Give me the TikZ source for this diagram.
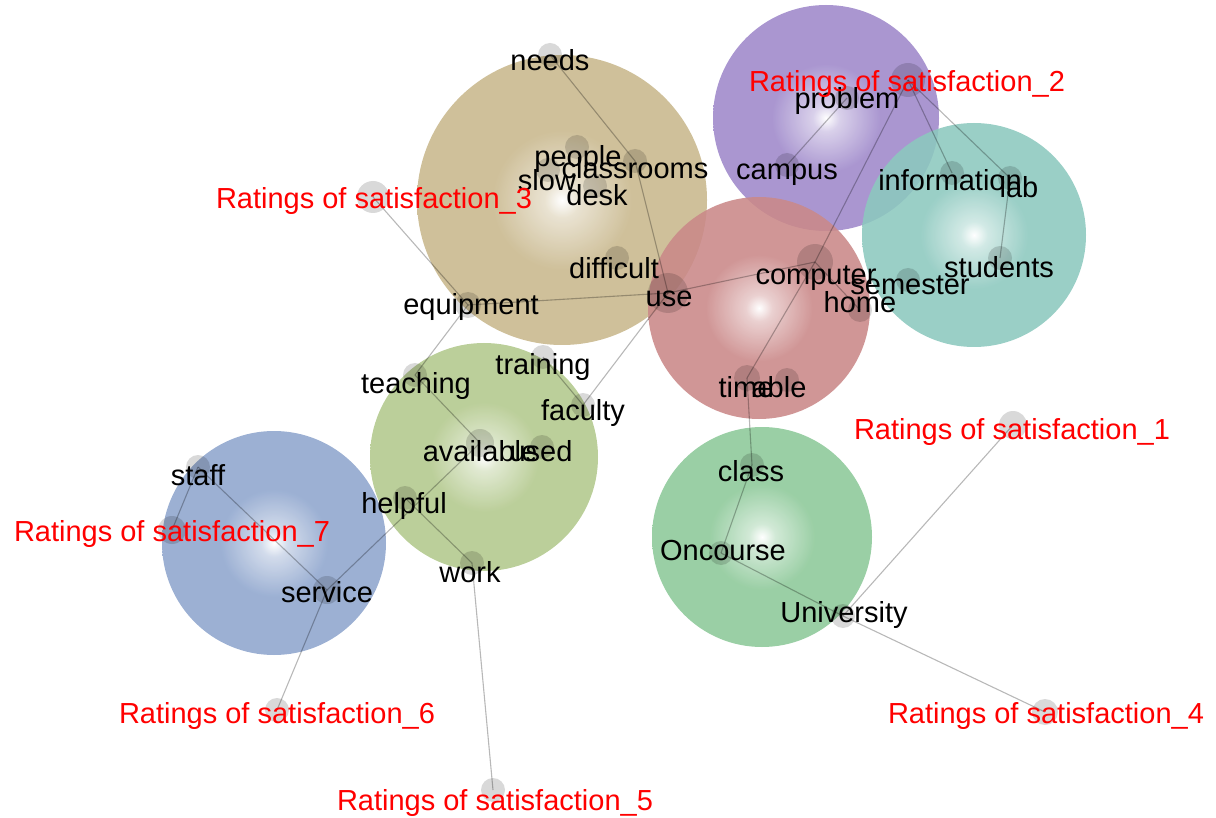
\documentclass[tikz,border=0pt]{standalone}
\usepackage{fontspec}
\setmainfont{Liberation Sans}
\definecolor{ctan}{RGB}{200,183,140}
\definecolor{cpur}{RGB}{158,136,202}
\definecolor{cteal}{RGB}{140,200,190}
\definecolor{cpink}{RGB}{202,136,136}
\definecolor{colive}{RGB}{178,200,140}
\definecolor{cgreen}{RGB}{140,200,152}
\definecolor{cblue}{RGB}{142,165,205}
\pgfdeclareradialshading{sh-tan}{\pgfpoint{0bp}{0bp}}{color(0bp)=(white); color(3bp)=(white!55!ctan); color(12bp)=(ctan); color(25bp)=(ctan); color(50bp)=(ctan)}
\pgfdeclareradialshading{sh-pur}{\pgfpoint{0bp}{0bp}}{color(0bp)=(white); color(3bp)=(white!55!cpur); color(12bp)=(cpur); color(25bp)=(cpur); color(50bp)=(cpur)}
\pgfdeclareradialshading{sh-teal}{\pgfpoint{0bp}{0bp}}{color(0bp)=(white); color(3bp)=(white!55!cteal); color(12bp)=(cteal); color(25bp)=(cteal); color(50bp)=(cteal)}
\pgfdeclareradialshading{sh-pink}{\pgfpoint{0bp}{0bp}}{color(0bp)=(white); color(3bp)=(white!55!cpink); color(12bp)=(cpink); color(25bp)=(cpink); color(50bp)=(cpink)}
\pgfdeclareradialshading{sh-olive}{\pgfpoint{0bp}{0bp}}{color(0bp)=(white); color(3bp)=(white!55!colive); color(12bp)=(colive); color(25bp)=(colive); color(50bp)=(colive)}
\pgfdeclareradialshading{sh-green}{\pgfpoint{0bp}{0bp}}{color(0bp)=(white); color(3bp)=(white!55!cgreen); color(12bp)=(cgreen); color(25bp)=(cgreen); color(50bp)=(cgreen)}
\pgfdeclareradialshading{sh-blue}{\pgfpoint{0bp}{0bp}}{color(0bp)=(white); color(3bp)=(white!55!cblue); color(12bp)=(cblue); color(25bp)=(cblue); color(50bp)=(cblue)}
\begin{document}
\begin{tikzpicture}[x=1pt,y=-1pt,
  word/.style={font=\fontsize{29}{34}\selectfont, text height=21pt, text depth=0pt, inner sep=0pt, text=black},
  rword/.style={word, text=red},
  dot/.style={circle, fill=black, fill opacity=0.15, draw=none, minimum size=#1, inner sep=0pt},
  dot/.default=24pt,
  link/.style={draw=black, draw opacity=0.28, line width=1.1pt},
  cluster/.style={shading=#1, fill opacity=0.88}]
\useasboundingbox (0,0) rectangle (1216,818);
% clusters
\shade[cluster=sh-tan] (562,200) circle[radius=145pt];
\shade[cluster=sh-pur] (826,118) circle[radius=113pt];
\shade[cluster=sh-teal] (974,235) circle[radius=112pt];
\shade[cluster=sh-pink] (759,308) circle[radius=111pt];
\shade[cluster=sh-olive] (484,457) circle[radius=114pt];
\shade[cluster=sh-green] (762,537) circle[radius=110pt];
\shade[cluster=sh-blue] (274,543) circle[radius=112pt];
% dots
\node[dot] (d-needs) at (550,55) {};
\node[dot] (d-people) at (577,147) {};
\node[dot] (d-classrooms) at (635,161) {};
\node[dot] (d-slow) at (548,170) {};
\node[dot] (d-desk) at (595,186) {};
\node[dot] (d-difficult) at (617,258) {};
\node[dot=40pt] (d-use) at (668,293) {};
\node[dot=26pt] (d-equipment) at (468,305) {};
\node[dot=32pt] (d-rs3) at (373,197) {};
\node[dot=34pt] (d-rs2) at (908,80) {};
\node[dot] (d-problem) at (847,98) {};
\node[dot] (d-campus) at (787,165) {};
\node[dot] (d-information) at (952,173) {};
\node[dot] (d-lab) at (1010,178) {};
\node[dot] (d-students) at (1000,258) {};
\node[dot] (d-semester) at (908,280) {};
\node[dot=36pt] (d-computer) at (815,262) {};
\node[dot] (d-home) at (860,310) {};
\node[dot=26pt] (d-time) at (747,378) {};
\node[dot] (d-able) at (787,380) {};
\node[dot] (d-class) at (752,465) {};
\node[dot] (d-oncourse) at (721,553) {};
\node[dot] (d-university) at (843,616) {};
\node[dot=28pt] (d-rs1) at (1013,425) {};
\node[dot=26pt] (d-rs4) at (1045,712) {};
\node[dot] (d-teaching) at (415,375) {};
\node[dot] (d-training) at (543,357) {};
\node[dot] (d-faculty) at (583,405) {};
\node[dot=28pt] (d-available) at (480,443) {};
\node[dot] (d-used) at (542,447) {};
\node[dot] (d-helpful) at (405,498) {};
\node[dot] (d-work) at (472,563) {};
\node[dot=28pt] (d-service) at (327,590) {};
\node[dot] (d-staff) at (198,467) {};
\node[dot=28pt] (d-rs7) at (172,530) {};
\node[dot] (d-rs6) at (277,710) {};
\node[dot] (d-rs5) at (493,790) {};
% links
\draw[link] (d-needs.center) -- (d-classrooms.center);
\draw[link] (d-classrooms.center) -- (d-use.center);
\draw[link] (d-use.center) -- (d-equipment.center);
\draw[link] (d-use.center) -- (d-computer.center);
\draw[link] (d-use.center) -- (d-faculty.center);
\draw[link] (d-training.center) -- (d-faculty.center);
\draw[link] (d-equipment.center) -- (d-rs3.center);
\draw[link] (d-equipment.center) -- (d-teaching.center);
\draw[link] (d-teaching.center) -- (d-available.center);
\draw[link] (d-available.center) -- (d-service.center);
\draw[link] (d-helpful.center) -- (d-work.center);
\draw[link] (d-work.center) -- (d-rs5.center);
\draw[link] (d-service.center) -- (d-rs6.center);
\draw[link] (d-service.center) -- (d-staff.center);
\draw[link] (d-staff.center) -- (d-rs7.center);
\draw[link] (d-problem.center) -- (d-campus.center);
\draw[link] (d-rs2.center) -- (d-computer.center);
\draw[link] (d-rs2.center) -- (d-information.center);
\draw[link] (d-rs2.center) -- (d-lab.center);
\draw[link] (d-lab.center) -- (d-students.center);
\draw[link] (d-computer.center) -- (d-home.center);
\draw[link] (d-computer.center) -- (d-time.center);
\draw[link] (d-time.center) -- (d-class.center);
\draw[link] (d-class.center) -- (d-oncourse.center);
\draw[link] (d-oncourse.center) -- (d-university.center);
\draw[link] (d-university.center) -- (d-rs1.center);
\draw[link] (d-university.center) -- (d-rs4.center);
% words
\node[word] (t-needs) at (550,60) {needs};
\node[word] (t-people) at (578,156) {people};
\node[word] (t-classrooms) at (635,168) {classrooms};
\node[word] (t-slow) at (547,180) {slow};
\node[word] (t-desk) at (597,195) {desk};
\node[word] (t-difficult) at (614,268) {difficult};
\node[word] (t-use) at (669,296) {use};
\node[word] (t-equipment) at (471,304) {equipment};
\node[word] (t-problem) at (847,98) {problem};
\node[word] (t-campus) at (787,169) {campus};
\node[word] (t-information) at (950,180) {information};
\node[word] (t-lab) at (1019,187) {lab};
\node[word] (t-computer) at (816,274) {computer};
\node[word] (t-home) at (860,302) {home};
\node[word] (t-semester) at (910,284) {semester};
\node[word] (t-students) at (999,267) {students};
\node[word] (t-training) at (543,364) {training};
\node[word] (t-teaching) at (416,383) {teaching};
\node[word] (t-faculty) at (583,410) {faculty};
\node[word] (t-time) at (746,387) {time};
\node[word] (t-able) at (779,387) {able};
\node[word] (t-available) at (480,451) {available};
\node[word] (t-used) at (541,451) {used};
\node[word] (t-class) at (751,471) {class};
\node[word] (t-staff) at (198,475) {staff};
\node[word] (t-helpful) at (404,503) {helpful};
\node[word] (t-oncourse) at (723,550) {Oncourse};
\node[word] (t-work) at (470,572) {work};
\node[word] (t-service) at (327,592) {service};
\node[word] (t-university) at (844,612) {University};
\node[rword] (t-rs2) at (907,81) {Ratings of satisfaction\_2};
\node[rword] (t-rs3) at (374,198) {Ratings of satisfaction\_3};
\node[rword] (t-rs1) at (1012,429) {Ratings of satisfaction\_1};
\node[rword] (t-rs7) at (172,531) {Ratings of satisfaction\_7};
\node[rword] (t-rs6) at (277,713) {Ratings of satisfaction\_6};
\node[rword] (t-rs4) at (1046,713) {Ratings of satisfaction\_4};
\node[rword] (t-rs5) at (495,800) {Ratings of satisfaction\_5};
\end{tikzpicture}
\end{document}
